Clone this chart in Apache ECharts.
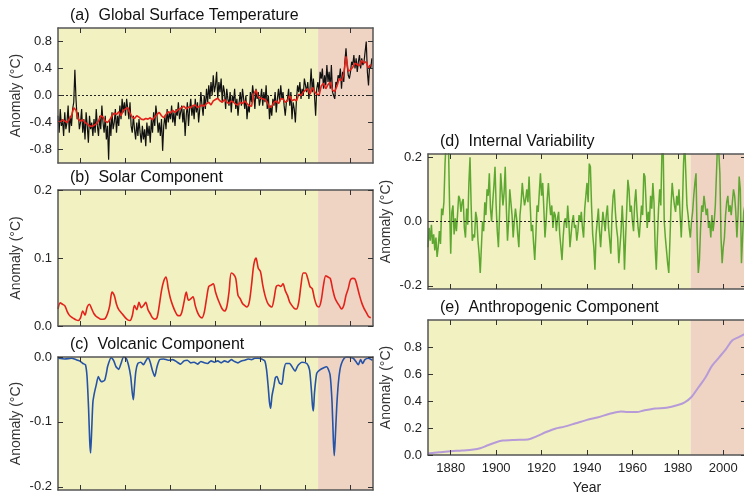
<!DOCTYPE html>
<html>
<head>
<meta charset="utf-8">
<script src="https://cdn.jsdelivr.net/npm/echarts@6/dist/echarts.min.js"></script>
<style>
  html, body { margin: 0; padding: 0; background: #fff; }
  #main { width: 744px; height: 494px; }
</style>
</head>
<body>
<div id="main"></div>
<script>
// observed temperature, two readings per year from 1870.0
const observed = [
  -0.30,-0.55,-0.20,-0.45,-0.35,-0.60,-0.25,-0.50,-0.40,-0.15,-0.55,-0.30,-0.45,-0.20,-0.10,0.38,-0.05,-0.35,-0.25,-0.50,
  -0.40,-0.20,-0.55,-0.35,-0.65,-0.25,-0.45,-0.70,-0.30,-0.50,-0.40,-0.60,-0.35,-0.55,-0.20,-0.45,-0.60,-0.30,-0.50,-0.15,
  -0.40,-0.55,-0.30,-0.65,-0.45,-0.95,-0.35,-0.60,-0.25,-0.50,-0.40,-0.20,-0.55,-0.30,-0.45,-0.15,-0.35,-0.05,-0.25,-0.10,
  -0.30,-0.05,-0.20,-0.35,-0.10,-0.45,-0.55,-0.30,-0.50,-0.65,-0.40,-0.60,-0.35,-0.55,-0.70,-0.45,-0.65,-0.50,-0.75,-0.40,
  -0.60,-0.45,-0.70,-0.35,-0.55,-0.25,-0.45,-0.15,-0.30,-0.55,-0.40,-0.60,-0.35,-0.82,-0.45,-0.30,-0.50,-0.20,-0.40,-0.25,
  -0.35,-0.15,-0.40,-0.25,-0.45,-0.20,-0.30,-0.10,-0.35,-0.25,-0.15,-0.40,-0.20,-0.60,-0.30,-0.10,-0.45,-0.20,-0.05,-0.30,
  -0.15,-0.35,-0.05,-0.25,-0.10,-0.40,-0.20,0.05,-0.15,-0.30,0.00,-0.20,0.10,-0.10,0.15,-0.05,0.20,0.00,0.30,0.05,
  0.15,0.35,-0.05,0.20,0.05,0.25,-0.10,0.15,0.05,-0.20,0.10,-0.05,-0.15,0.05,-0.25,0.00,-0.10,0.10,-0.20,-0.05,
  -0.30,-0.10,0.05,-0.15,0.10,-0.05,-0.20,0.00,-0.35,-0.15,-0.25,0.05,-0.10,0.15,0.00,-0.20,0.10,-0.05,0.05,-0.15,
  -0.05,0.10,-0.15,0.05,-0.10,0.15,-0.20,0.00,-0.35,-0.15,-0.30,-0.05,-0.15,0.05,-0.25,-0.05,0.10,-0.10,0.15,-0.05,
  0.05,-0.15,-0.30,-0.10,-0.05,0.10,-0.15,0.05,-0.35,-0.10,-0.20,-0.40,-0.05,0.15,0.05,0.20,-0.05,0.10,0.00,0.25,
  0.15,0.05,0.20,-0.05,0.10,0.40,0.05,0.25,0.00,-0.30,0.10,0.20,0.05,0.35,0.25,0.40,0.10,0.30,0.15,0.45,
  0.20,0.35,0.10,0.45,0.05,0.00,-0.05,0.20,0.15,0.30,0.25,0.40,0.10,0.35,0.20,0.50,0.70,0.45,0.30,0.25,
  0.35,0.50,0.45,0.60,0.40,0.55,0.35,0.50,0.60,0.40,0.55,0.45,0.50,0.65,0.80,0.35,0.15,0.45,0.40,0.55
];
// reconstructed temperature, annual from 1870
const model = [
  -0.38,-0.40,-0.36,-0.38,-0.40,-0.35,-0.30,-0.18,-0.22,-0.35,
  -0.38,-0.36,-0.40,-0.42,-0.45,-0.46,-0.44,-0.42,-0.38,-0.30,
  -0.32,-0.38,-0.40,-0.36,-0.30,-0.26,-0.28,-0.24,-0.30,-0.22,
  -0.20,-0.18,-0.26,-0.32,-0.34,-0.30,-0.32,-0.35,-0.36,-0.34,
  -0.35,-0.33,-0.36,-0.32,-0.28,-0.25,-0.30,-0.33,-0.28,-0.24,
  -0.26,-0.22,-0.25,-0.22,-0.20,-0.18,-0.16,-0.20,-0.17,-0.18,
  -0.15,-0.14,-0.18,-0.16,-0.14,-0.16,-0.12,-0.10,-0.14,-0.08,
  -0.06,-0.04,-0.08,-0.10,-0.06,-0.10,-0.12,-0.08,-0.10,-0.13,
  -0.14,-0.10,-0.12,-0.08,-0.12,-0.15,-0.16,0.02,0.08,-0.02,
  -0.04,-0.05,-0.06,-0.10,-0.18,-0.16,-0.10,-0.08,-0.12,-0.05,
  -0.05,-0.10,-0.08,0.00,-0.08,-0.06,-0.08,0.02,0.00,0.05,
  0.08,0.10,0.02,0.12,0.06,0.02,0.00,0.14,0.18,0.10,
  0.16,0.20,0.08,0.06,0.14,0.25,0.22,0.32,0.58,0.36,
  0.38,0.42,0.48,0.46,0.44,0.52,0.48,0.50,0.40,0.46
];
// solar component, annual from 1870
const solar = [
  .025,.034,.032,.030,.022,.016,.013,.011,.009,.008,
  .012,.022,.016,.028,.032,.025,.018,.014,.012,.010,
  .010,.011,.018,.030,.050,.045,.032,.024,.020,.016,
  .012,.009,.008,.015,.030,.024,.035,.027,.030,.035,
  .024,.018,.012,.010,.012,.030,.052,.066,.072,.055,
  .040,.030,.022,.016,.015,.020,.035,.050,.038,.040,
  .043,.030,.020,.014,.012,.020,.040,.058,.060,.062,
  .050,.040,.032,.025,.022,.028,.050,.078,.076,.070,
  .045,.040,.033,.030,.028,.035,.060,.090,.100,.085,
  .080,.060,.045,.035,.030,.028,.040,.058,.060,.058,
  .062,.052,.045,.035,.030,.026,.025,.035,.060,.078,
  .078,.070,.058,.055,.040,.030,.028,.038,.060,.074,
  .072,.070,.055,.042,.035,.030,.025,.030,.045,.055,
  .068,.070,.069,.058,.045,.034,.026,.020,.014,.012
];
// volcanic component, [year, value]
const volcanic = [
  [1870,-0.002],[1873,-0.003],[1876,-0.002],[1878,-0.004],[1879.6,-0.006],[1881.1,-0.010],[1882.2,-0.012],
  [1882.9,-0.03],[1883.6,-0.08],[1884.1,-0.13],[1884.5,-0.148],[1885.0,-0.11],[1885.5,-0.07],[1886.2,-0.055],
  [1887.0,-0.043],[1887.9,-0.03],[1888.6,-0.035],[1889.3,-0.038],[1890.7,-0.036],[1891.5,-0.025],[1892.1,-0.014],
  [1893.6,-0.001],[1894.8,-0.006],[1895.8,-0.015],[1897.0,-0.019],[1898.0,-0.01],[1899.1,0.0],[1900.3,-0.002],
  [1901.3,-0.012],[1902.3,-0.03],[1903.0,-0.055],[1903.5,-0.066],[1904.0,-0.045],[1904.6,-0.022],[1905.5,-0.01],
  [1906.8,-0.008],[1908.0,-0.012],[1909.0,-0.006],[1910.0,-0.001],[1911.0,-0.008],[1911.9,-0.02],[1913.0,-0.03],
  [1914.0,-0.015],[1915.2,-0.004],[1917,-0.003],[1919,-0.005],[1921,-0.004],[1923,-0.008],[1924.5,-0.011],
  [1926,-0.006],[1927.5,-0.005],[1929,-0.009],[1930.5,-0.008],[1932,-0.011],[1933.5,-0.007],[1935,-0.009],
  [1936.5,-0.010],[1938,-0.006],[1939.5,-0.008],[1941,-0.006],[1942.5,-0.009],[1944,-0.006],[1945.5,-0.008],
  [1947,-0.004],[1948.5,-0.007],[1950,-0.009],[1951.5,-0.006],[1953,-0.005],[1954.5,-0.003],[1956,-0.004],
  [1957.5,-0.002],[1959,-0.002],[1960.5,-0.003],[1961.9,-0.006],[1962.7,-0.02],[1963.4,-0.045],[1964.0,-0.07],
  [1964.5,-0.079],[1965.1,-0.06],[1966.0,-0.044],[1966.6,-0.032],[1967.3,-0.03],[1968.4,-0.04],[1969.5,-0.042],
  [1970.4,-0.02],[1971.3,-0.01],[1972.9,-0.01],[1974.2,-0.016],[1975.4,-0.022],[1976.2,-0.016],[1976.9,-0.012],
  [1978.4,-0.008],[1980.6,-0.01],[1981.8,-0.02],[1982.6,-0.05],[1983.1,-0.075],[1983.5,-0.083],[1984.0,-0.055],
  [1985.0,-0.025],[1986.4,-0.02],[1987.9,-0.017],[1989.4,-0.015],[1990.9,-0.027],[1991.8,-0.07],[1992.4,-0.13],
  [1992.8,-0.152],[1993.3,-0.12],[1993.9,-0.075],[1994.6,-0.04],[1995.3,-0.02],[1996.0,-0.01],[1997.2,-0.002],
  [1998.3,0.0],[2000.5,-0.001],[2001.3,-0.002],[2002.4,-0.007],[2003.5,-0.012],[2004.5,-0.004],[2005.4,-0.01],
  [2006.4,-0.004],[2007.9,-0.002],[2009.8,-0.005]
];
// internal variability, two readings per year from 1870.0
const internal = [
  -0.08,-0.02,-0.06,-0.01,-0.07,-0.04,-0.09,-0.05,-0.11,-0.08,-0.03,-0.07,0.04,0.02,0.06,0.18,0.25,0.22,0.24,0.05,
  -0.10,0.03,0.05,-0.04,0.01,-0.03,0.02,0.08,0.07,0.03,0.06,0.07,-0.02,-0.05,0.04,-0.01,0.12,0.20,0.05,-0.06,
  -0.04,-0.05,0.03,0.01,-0.06,-0.10,-0.16,-0.08,0.00,-0.03,0.06,0.02,0.10,0.08,0.15,0.04,0.00,0.06,0.11,0.17,
  0.05,-0.03,-0.08,0.02,0.15,0.10,0.05,0.09,0.17,0.04,-0.06,0.00,0.10,0.06,0.02,-0.05,0.00,0.04,0.01,-0.04,
  -0.08,0.02,0.06,0.12,0.08,0.05,0.07,0.10,0.06,0.14,0.05,-0.03,-0.01,-0.07,-0.12,-0.04,0.05,0.03,0.09,0.15,
  0.08,0.12,0.04,-0.05,0.00,0.07,0.12,0.06,0.02,0.05,-0.02,0.03,0.02,-0.03,0.01,0.03,-0.04,-0.08,-0.12,-0.05,
  0.00,0.01,-0.02,0.05,0.00,-0.08,-0.04,0.00,0.02,-0.02,-0.01,-0.06,-0.03,0.02,0.00,0.03,-0.02,-0.05,0.04,0.08,
  0.12,0.06,0.18,0.17,0.05,-0.04,-0.08,-0.15,-0.04,0.00,0.04,-0.03,-0.08,-0.02,0.03,0.00,-0.03,0.02,0.05,-0.02,
  -0.06,-0.10,0.02,0.08,0.10,0.03,-0.02,-0.05,-0.13,-0.08,-0.03,0.05,-0.02,-0.15,-0.05,0.04,0.13,0.10,0.03,0.05,
  0.00,-0.03,0.06,0.10,0.03,-0.02,-0.05,0.00,0.05,0.02,0.15,0.14,0.06,-0.02,0.03,0.00,0.08,0.04,0.12,0.06,
  -0.08,-0.15,-0.05,0.04,0.10,0.05,0.22,0.25,0.00,-0.05,-0.09,-0.13,-0.16,-0.06,0.05,0.12,0.08,0.05,0.03,0.08,
  0.05,0.10,0.02,-0.05,0.04,0.18,0.25,0.15,0.05,0.02,-0.02,-0.05,0.00,0.03,0.08,0.12,0.15,-0.05,-0.16,-0.12,
  -0.02,0.05,0.03,0.08,0.05,0.02,0.04,-0.02,0.00,-0.05,0.02,-0.03,0.00,0.05,0.15,0.25,0.22,0.15,-0.05,-0.13,
  -0.08,-0.05,0.02,0.06,0.08,0.03,0.05,0.02,0.06,0.10,0.08,0.03,-0.05,0.02,0.14,0.10,-0.13,-0.05,0.03,0.05
];
// anthropogenic component, [year, value]
const anthropogenic = [
  [1870,0.012],[1875,0.02],[1880,0.028],[1885,0.033],[1890,0.04],[1893,0.05],[1896,0.07],[1900,0.095],
  [1903,0.107],[1908,0.112],[1914,0.115],[1918,0.14],[1922,0.17],[1926,0.195],[1930,0.21],[1935,0.235],
  [1940,0.26],[1945,0.28],[1950,0.305],[1955,0.322],[1958,0.318],[1962,0.318],[1965,0.33],[1970,0.345],
  [1975,0.35],[1980,0.37],[1983,0.39],[1986,0.43],[1989,0.5],[1992,0.57],[1995,0.66],[1998,0.72],
  [2001,0.78],[2004,0.85],[2007,0.875],[2010,0.9]
];
const tickYears = [1880, 1900, 1920, 1940, 1960, 1980, 2000];
const titles = ['(a)  Global Surface Temperature', '(b)  Solar Component', '(c)  Volcanic Component',
                '(d)  Internal Variability', '(e)  Anthropogenic Component'];

const X_MIN = 1870, X_MAX = 2010, SHADE_FROM = 1985.6;
const FONT = 'Liberation Sans, Arial, Helvetica, sans-serif';

function withYears(vals, start, step) {
  return vals.map(function (v, i) { return [start + i * step, v]; });
}

// panel boxes; labels may hang outside them
const grids = [
  { left: 58, top: 28, width: 315, height: 135 },
  { left: 58, top: 190, width: 315, height: 136 },
  { left: 58, top: 357, width: 315, height: 133 },
  { left: 428, top: 154, width: 318, height: 135 },
  { left: 428, top: 320, width: 318, height: 135 }
].map(function (g) { return Object.assign({ outerBoundsMode: 'none', containLabel: false }, g); });

// y ranges and labelled values per panel
const yRanges = [
  { min: -1.0, max: 1.0, ticks: [-0.8, -0.4, 0, 0.4, 0.8] },
  { min: 0, max: 0.2, ticks: [0, 0.1, 0.2] },
  { min: -0.205, max: 0, ticks: [-0.2, -0.1, 0] },
  { min: -0.21, max: 0.21, ticks: [-0.2, 0, 0.2] },
  { min: 0, max: 1.0, ticks: [0, 0.2, 0.4, 0.6, 0.8] }
];

const frameLine = { show: true, onZero: false, lineStyle: { color: '#555', width: 1.5 } };
const xAxes = [], yAxes = [], series = [];

grids.forEach(function (g, i) {
  ['bottom', 'top'].forEach(function (pos) {
    const named = i === 4 && pos === 'bottom';
    xAxes.push({
      gridIndex: i, type: 'value', min: X_MIN, max: X_MAX, position: pos, z: 5,
      axisLine: frameLine,
      axisTick: { inside: true, length: 5, customValues: tickYears, lineStyle: { color: '#333' } },
      axisLabel: { show: named, customValues: tickYears, color: '#222',
                   fontSize: 13, fontFamily: FONT, margin: 7,
                   formatter: function (v) { return String(v); } },
      splitLine: { show: false },
      name: named ? 'Year' : '',
      nameLocation: 'middle', nameGap: 26,
      nameTextStyle: { fontSize: 14, color: '#222', fontFamily: FONT }
    });
  });
  const r = yRanges[i];
  ['left', 'right'].forEach(function (pos) {
    yAxes.push({
      gridIndex: i, type: 'value', min: r.min, max: r.max, position: pos, z: 5,
      axisLine: frameLine,
      axisTick: { inside: true, length: 5, customValues: r.ticks, lineStyle: { color: '#333' } },
      axisLabel: { show: pos === 'left', customValues: r.ticks, color: '#222', fontSize: 13,
                   fontFamily: FONT, margin: 6,
                   formatter: function (v) { return v.toFixed(1); } },
      splitLine: { show: false },
      name: pos === 'left' ? 'Anomaly (°C)' : '',
      nameLocation: 'middle', nameRotate: 90, nameGap: 35,
      nameTextStyle: { fontSize: 14, color: '#333', fontFamily: FONT }
    });
  });
  // shaded periods
  series.push({
    type: 'line', xAxisIndex: 2 * i, yAxisIndex: 2 * i, data: [], z: 1, silent: true,
    markArea: {
      silent: true,
      data: [
        [{ xAxis: X_MIN, itemStyle: { color: '#f1f1c2' } }, { xAxis: SHADE_FROM }],
        [{ xAxis: SHADE_FROM, itemStyle: { color: '#efd4c4' } }, { xAxis: X_MAX }]
      ]
    }
  });
});

function lineSeries(i, data, color, width, extra) {
  return Object.assign({
    type: 'line', xAxisIndex: 2 * i, yAxisIndex: 2 * i, data: data, showSymbol: false,
    lineStyle: { color: color, width: width }, z: 3, silent: true, animation: false
  }, extra || {});
}

const zeroLine = {
  silent: true, symbol: 'none', label: { show: false },
  lineStyle: { color: '#222', type: [2, 2], width: 1 },
  data: [{ yAxis: 0 }]
};

series.push(lineSeries(0, withYears(observed, 1870, 0.5), '#111', 1.2, { markLine: zeroLine }));
series.push(lineSeries(0, withYears(model, 1870, 1), '#e3221b', 1.6, { z: 4 }));
series.push(lineSeries(1, withYears(solar, 1870, 1), '#e3221b', 1.6, { smooth: 0.3 }));
series.push(lineSeries(2, volcanic, '#2553a7', 1.6, { smooth: 0.2 }));
series.push(lineSeries(3, withYears(internal, 1870, 0.5), '#5ea832', 1.5, { markLine: zeroLine }));
series.push(lineSeries(4, anthropogenic, '#b69bd8', 2, { smooth: 0.3 }));

const chart = echarts.init(document.getElementById('main'));
chart.setOption({
  animation: false,
  backgroundColor: '#ffffff',
  title: titles.map(function (t, i) {
    return {
      text: t, left: grids[i].left + 12, top: grids[i].top - 20, padding: 0,
      textStyle: { fontSize: 16, fontWeight: 'normal', color: '#111', fontFamily: FONT }
    };
  }),
  grid: grids,
  xAxis: xAxes,
  yAxis: yAxes,
  series: series
});
</script>
</body>
</html>
